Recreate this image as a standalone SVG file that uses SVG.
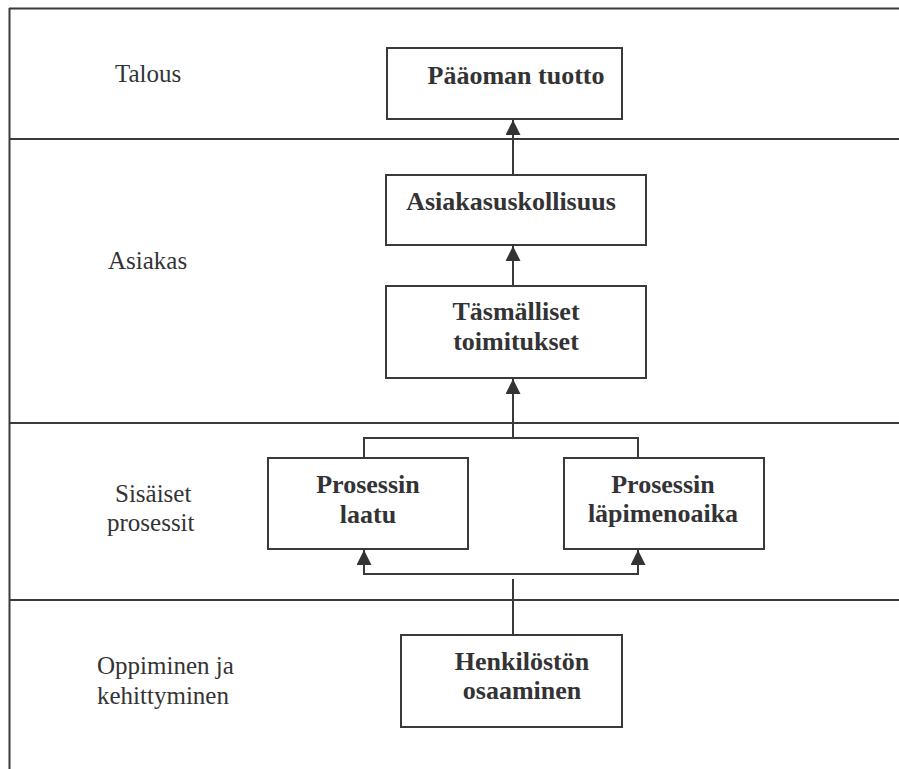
<svg xmlns="http://www.w3.org/2000/svg" width="899" height="769" viewBox="0 0 899 769">
  <style>
    .frame { stroke: #3a3a3c; stroke-width: 2; fill: none; }
    .box { fill: #ffffff; stroke: #3a3a3c; stroke-width: 2; }
    text { font-family: 'Liberation Serif', 'Times New Roman', serif; font-size: 25px; fill: #333335; }
    .title { font-size: 26px; font-weight: bold; text-anchor: middle; }
    .link { stroke: #3a3a3c; stroke-width: 2; fill: none; }
  </style>
  <defs>
    <marker id="arrow" markerWidth="15" markerHeight="15" refX="15" refY="7.5" orient="auto" markerUnits="userSpaceOnUse">
      <path d="M0,0 L15,7.5 L0,15 Z" fill="#333335"/>
    </marker>
  </defs>

  <rect width="899" height="769" fill="#ffffff"/>

  <!-- lane frame -->
  <g id="frame">
    <line class="frame" x1="9.5" y1="8" x2="9.5" y2="769"/>
    <line class="frame" x1="9" y1="8.5" x2="899" y2="8.5"/>
    <line class="frame" x1="9" y1="139" x2="899" y2="139"/>
    <line class="frame" x1="9" y1="423" x2="899" y2="423"/>
    <line class="frame" x1="9" y1="600" x2="899" y2="600"/>
  </g>

  <!-- lane labels -->
  <g id="lane-labels">
    <text x="115" y="82">Talous</text>
    <text x="108" y="269">Asiakas</text>
    <text x="115" y="502">Sisäiset</text>
    <text x="107" y="531">prosessit</text>
    <text x="97" y="674">Oppiminen ja</text>
    <text x="97" y="704">kehittyminen</text>
  </g>

  <!-- connectors -->
  <g id="connectors">
    <line class="link" x1="513" y1="175" x2="513" y2="120" marker-end="url(#arrow)"/>
    <line class="link" x1="513" y1="286" x2="513" y2="246" marker-end="url(#arrow)"/>
    <polyline class="link" points="364,458 364,438 638,438 638,458"/>
    <line class="link" x1="513" y1="438" x2="513" y2="379" marker-end="url(#arrow)"/>
    <line class="link" x1="364" y1="574" x2="364" y2="550" marker-end="url(#arrow)"/>
    <line class="link" x1="638" y1="574" x2="638" y2="550" marker-end="url(#arrow)"/>
    <line class="link" x1="363" y1="574" x2="639" y2="574"/>
    <line class="link" x1="513" y1="579" x2="513" y2="635"/>
  </g>

  <!-- nodes -->
  <g id="paaoman-tuotto">
    <rect class="box" x="387" y="48" width="235" height="71"/>
    <text class="title" x="516" y="84">Pääoman tuotto</text>
  </g>
  <g id="asiakasuskollisuus">
    <rect class="box" x="386" y="175" width="260" height="70"/>
    <text class="title" x="511" y="210">Asiakasuskollisuus</text>
  </g>
  <g id="tasmalliset-toimitukset">
    <rect class="box" x="386" y="286" width="260" height="92"/>
    <text class="title" x="516" y="320">Täsmälliset</text>
    <text class="title" x="516" y="350">toimitukset</text>
  </g>
  <g id="prosessin-laatu">
    <rect class="box" x="268" y="458" width="200" height="91"/>
    <text class="title" x="368" y="493">Prosessin</text>
    <text class="title" x="368" y="523">laatu</text>
  </g>
  <g id="prosessin-lapimenoaika">
    <rect class="box" x="564" y="458" width="200" height="91"/>
    <text class="title" x="663" y="493">Prosessin</text>
    <text class="title" x="663" y="522">läpimenoaika</text>
  </g>
  <g id="henkiloston-osaaminen">
    <rect class="box" x="401" y="635" width="221" height="92"/>
    <text class="title" x="522" y="670">Henkilöstön</text>
    <text class="title" x="522" y="699">osaaminen</text>
  </g>
</svg>
